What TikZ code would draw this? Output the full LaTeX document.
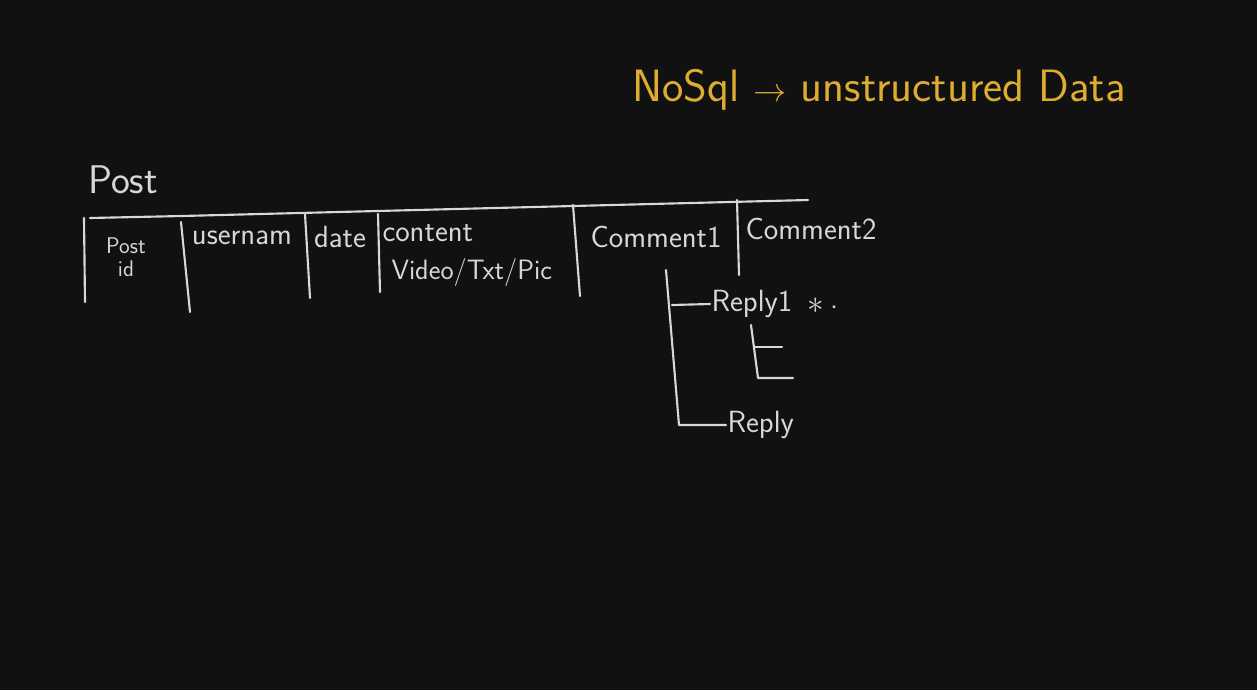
\documentclass[tikz,border=0pt]{standalone}
\usepackage{tikz}
\usepackage{amsmath}
\usetikzlibrary{positioning}
\tikzset{every picture/.style={line width=0.75pt}}
\definecolor{board}{RGB}{17,17,17}
\definecolor{chalk}{RGB}{215,215,215}
\definecolor{marker}{RGB}{222,172,48}
\tikzset{
  chalkline/.style={draw=chalk, line width=1.6pt, line cap=round, line join=round},
  cell/.style={text=chalk, inner sep=0.75pt, font=\sffamily\fontsize{23}{25}\selectfont},
  tag/.style={text=marker, inner sep=0.75pt, font=\sffamily\fontsize{34}{36}\selectfont}
}

\begin{document}
\begin{tikzpicture}[x=0.75pt,y=0.75pt,yscale=-1,xscale=1]
%Background
\fill [board] (0,0) rectangle (1257,690);
\useasboundingbox (0,0) rectangle (1257,690);

% Title
\node [tag] (title) at (879,90) {NoSql $\rightarrow$ unstructured Data};

% Table name
\node [cell, font=\sffamily\fontsize{30}{32}\selectfont] (post) at (123,180) {Post};

% Table header line
\coordinate (tl) at (90,218);
\coordinate (tm) at (182,216);
\coordinate (tr) at (808,200);
\draw [chalkline] (tl) -- (tm) -- (tr);

% Column separators
\coordinate (a1) at (84,218);  \coordinate (a2) at (85,302);
\coordinate (b1) at (181,222); \coordinate (b2) at (190,312);
\coordinate (c1) at (305,214); \coordinate (c2) at (310,298);
\coordinate (d1) at (378,214); \coordinate (d2) at (380,292);
\coordinate (e1) at (573,205); \coordinate (e2) at (580,296);
\coordinate (f1) at (737,200); \coordinate (f2) at (739,275);
\foreach \u/\v in {a1/a2,b1/b2,c1/c2,d1/d2,e1/e2,f1/f2}
  \draw [chalkline] (\u) -- (\v);

% Column texts
\node [cell, font=\sffamily\fontsize{17}{17}\selectfont, align=center] (postid) at (126,257) {Post\\id};
\node [cell] (user) at (242,238) {usernam};
\node [cell] (date) at (340,237) {date};
\node [cell, anchor=west] (content) at (381,233) {content};
\node [cell, anchor=west, font=\sffamily\fontsize{21}{23}\selectfont] (media) at (390,272) {Video/Txt/Pic};
\node [cell, anchor=west] (com1) at (589,237) {Comment1};
\node [cell, anchor=west] (com2) at (744,229) {Comment2};

% Replies of Comment1
\node [cell, anchor=west] (rep1) at (710,304) {Reply1};
\node [cell] (star) at (816,306) {$\ast$};
\node [cell] (dot) at (834,307) {.};
\node [cell, anchor=west] (rep2) at (726,425) {Reply};

\coordinate (r0) at (666,270);
\coordinate (r1) at (672,305);
\coordinate (r2) at (679,425);
\draw [chalkline] (r0) -- (r2) -- (rep2.west);
\draw [chalkline] (r1) -- (rep1.west);

% Nested replies
\coordinate (s0) at (751,325);
\coordinate (s1) at (754,347);
\coordinate (s2) at (758,378);
\coordinate (s3) at (782,347);
\coordinate (s4) at (793,378);
\draw [chalkline] (s0) -- (s2) -- (s4);
\draw [chalkline] (s1) -- (s3);
\end{tikzpicture}
\end{document}
